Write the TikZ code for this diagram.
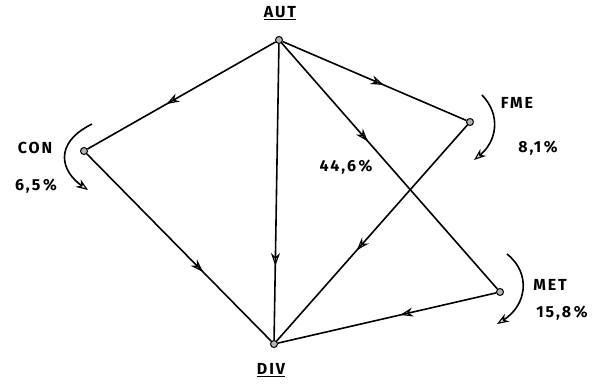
\documentclass[tikz,border=0pt]{standalone}
\usepackage{fontspec}
\setmainfont{Fira Sans}
\newfontfamily\handfont[LetterSpace=12]{Fira Sans}
\usetikzlibrary{arrows.meta,decorations.markings}
\begin{document}
\begin{tikzpicture}[x=1pt,y=-1pt,line width=1.6pt,
  dot/.style={circle,draw,fill=gray!60,inner sep=0pt,minimum size=7pt,line width=1pt},
  lbl/.style={font=\handfont\fontsize{16}{18}\selectfont\bfseries,inner sep=1pt},
  midarrow/.style={postaction={decorate},decoration={markings,mark=at position #1 with {\arrow{Stealth[open,length=13pt,width=9pt,line width=1.2pt]}}}},
  turnarrow/.style={-{Stealth[open,length=12pt,width=9pt,line width=1.2pt]}}]
\useasboundingbox (0,0) rectangle (601,386);
\node[dot] (aut) at (279,40) {};
\node[dot] (con) at (84,151) {};
\node[dot] (fme) at (470,122) {};
\node[dot] (met) at (500,292) {};
\node[dot] (div) at (274,344) {};
\node[lbl] (lblaut) at (280,13) {\underline{AUT}};
\node[lbl] (lbldiv) at (271,370) {\underline{DIV}};
\node[lbl] (lblcon) at (35,148) {CON};
\node[lbl] (pcon) at (36,186) {6,5\,\%};
\node[lbl] (lblfme) at (517,103) {FME};
\node[lbl] (pfme) at (538,148) {8,1\,\%};
\node[lbl] (lblmet) at (550,285) {MET};
\node[lbl] (pmet) at (562,313) {15,8\,\%};
\node[lbl] (paut) at (346,167) {44,6\,\%};
\draw[midarrow=0.58] (aut) -- (con);
\draw[midarrow=0.55] (aut) -- (fme);
\draw[midarrow=0.75] (aut) -- (div);
\draw[midarrow=0.40] (aut) -- (met);
\draw[midarrow=0.63] (con) -- (div);
\draw[midarrow=0.58] (fme) -- (div);
\draw[midarrow=0.44] (met) -- (div);
\coordinate (c1s) at (92,124);
\coordinate (c1e) at (88,190);
\draw[turnarrow] (c1s) .. controls (52,144) and (62,172) .. (c1e);
\coordinate (c2s) at (482,95);
\coordinate (c2e) at (474,160);
\draw[turnarrow] (c2s) .. controls (502,116) and (496,142) .. (c2e);
\coordinate (c3s) at (507,254);
\coordinate (c3e) at (497,324);
\draw[turnarrow] (c3s) .. controls (532,274) and (526,306) .. (c3e);
\end{tikzpicture}
\end{document}
